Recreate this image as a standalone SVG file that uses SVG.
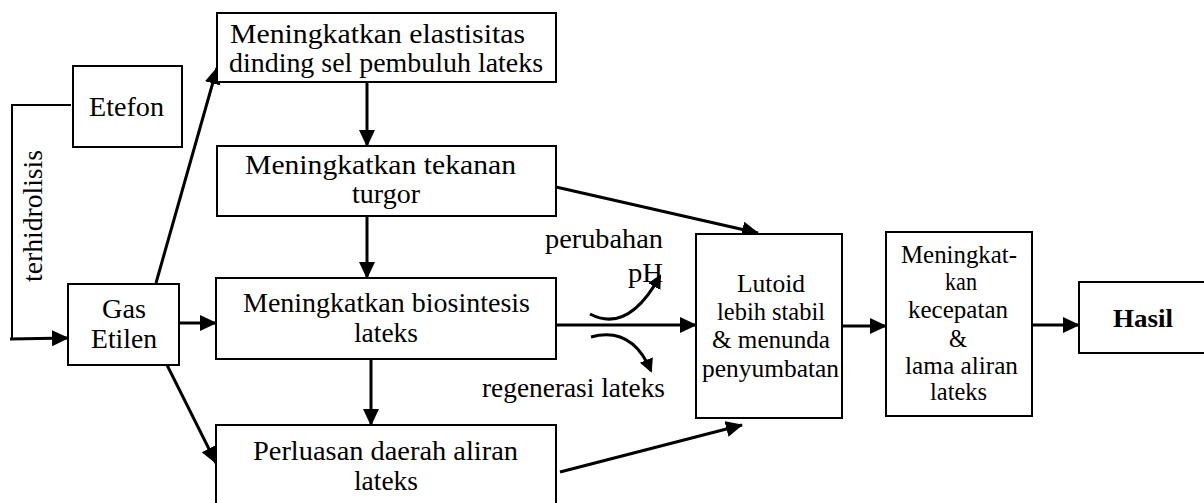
<svg xmlns="http://www.w3.org/2000/svg" width="1204" height="503" viewBox="0 0 1204 503">
<defs>
<style>
.box{fill:#fff;stroke:#000;stroke-width:2}
.t{font-family:"Liberation Serif","Times New Roman",serif;fill:#000}
.L{font-size:27px}
.R{font-size:25px}
.M{font-size:27px}
.c{fill:none;stroke:#000;stroke-width:3}
.thin{fill:none;stroke:#000;stroke-width:2}
</style>
<marker id="ah" markerUnits="userSpaceOnUse" markerWidth="18" markerHeight="18" refX="16" refY="8" orient="auto" viewBox="0 0 18 18">
<path d="M0,0 L17,8 L0,16 z" fill="#000"/>
</marker>
<marker id="ahs" markerUnits="userSpaceOnUse" markerWidth="16" markerHeight="16" refX="12" refY="7" orient="auto" viewBox="0 0 16 16">
<path d="M0,0 L14,7 L0,14 z" fill="#000"/>
</marker>
</defs>
<rect width="1204" height="503" fill="#fff"/>

<g id="connectors">
<polyline class="thin" points="71,105 12,105 12,339"/>
<line class="c" x1="10" y1="339" x2="68" y2="338" marker-end="url(#ah)"/>
<line class="c" x1="156" y1="283" x2="217" y2="68" marker-end="url(#ah)"/>
<line class="c" x1="179" y1="323" x2="216" y2="323" marker-end="url(#ah)"/>
<line class="c" x1="167" y1="365" x2="216" y2="463" marker-end="url(#ah)"/>
<line class="c" x1="367" y1="82" x2="367" y2="146" marker-end="url(#ah)"/>
<line class="c" x1="367" y1="216" x2="367" y2="278" marker-end="url(#ah)"/>
<line class="c" x1="371" y1="359" x2="371" y2="425" marker-end="url(#ah)"/>
<line class="c" x1="556" y1="187" x2="758" y2="233" marker-end="url(#ah)"/>
<line class="c" x1="556" y1="325" x2="696" y2="325" marker-end="url(#ah)"/>
<line class="c" x1="560" y1="472" x2="742" y2="425" marker-end="url(#ah)"/>
<path class="c" d="M590,314 Q628,334 660,276" marker-end="url(#ahs)"/>
<path class="c" d="M591,337 Q632,326 651,371" marker-end="url(#ahs)"/>
<line class="c" x1="842" y1="326" x2="886" y2="326" marker-end="url(#ah)"/>
<line class="c" x1="1032" y1="325" x2="1079" y2="325" marker-end="url(#ah)"/>
</g>

<g id="etefon">
<rect class="box" x="73" y="66" width="109" height="81"/>
<text class="t L" x="89" y="116" textLength="75" lengthAdjust="spacingAndGlyphs">Etefon</text>
</g>

<g id="terhidrolisis">
<text class="t M" transform="translate(42,282) rotate(-90)" textLength="132" lengthAdjust="spacingAndGlyphs">terhidrolisis</text>
</g>

<g id="gas-etilen">
<rect class="box" x="68" y="284" width="111" height="81"/>
<text class="t L" x="102" y="318" textLength="44" lengthAdjust="spacingAndGlyphs">Gas</text>
<text class="t L" x="91" y="348" textLength="66" lengthAdjust="spacingAndGlyphs">Etilen</text>
</g>

<g id="elastisitas">
<rect class="box" x="217" y="13" width="339" height="69"/>
<text class="t L" x="230" y="43" textLength="295" lengthAdjust="spacingAndGlyphs">Meningkatkan elastisitas</text>
<text class="t L" x="229" y="72" textLength="314" lengthAdjust="spacingAndGlyphs">dinding sel pembuluh lateks</text>
</g>

<g id="turgor">
<rect class="box" x="217" y="146" width="339" height="70"/>
<text class="t L" x="245" y="174" textLength="271" lengthAdjust="spacingAndGlyphs">Meningkatkan tekanan</text>
<text class="t L" x="352" y="203" textLength="68" lengthAdjust="spacingAndGlyphs">turgor</text>
</g>

<g id="biosintesis">
<rect class="box" x="216" y="278" width="340" height="81"/>
<text class="t L" x="243" y="312" textLength="287" lengthAdjust="spacingAndGlyphs">Meningkatkan biosintesis</text>
<text class="t L" x="354" y="342" textLength="64" lengthAdjust="spacingAndGlyphs">lateks</text>
</g>

<g id="perluasan">
<rect class="box" x="216" y="425" width="340" height="92"/>
<text class="t L" x="253" y="460" textLength="265" lengthAdjust="spacingAndGlyphs">Perluasan daerah aliran</text>
<text class="t L" x="354" y="490" textLength="64" lengthAdjust="spacingAndGlyphs">lateks</text>
</g>

<g id="labels">
<text class="t M" x="545" y="248" textLength="118" lengthAdjust="spacingAndGlyphs">perubahan</text>
<text class="t M" x="628" y="282" textLength="35" lengthAdjust="spacingAndGlyphs">pH</text>
<text class="t M" x="482" y="397" textLength="183" lengthAdjust="spacingAndGlyphs">regenerasi lateks</text>
</g>

<g id="lutoid">
<rect class="box" x="696" y="234" width="146" height="184"/>
<text class="t R" x="737" y="292" textLength="68" lengthAdjust="spacingAndGlyphs">Lutoid</text>
<text class="t R" x="717" y="320" textLength="108" lengthAdjust="spacingAndGlyphs">lebih stabil</text>
<text class="t R" x="712" y="348" textLength="118" lengthAdjust="spacingAndGlyphs">&amp; menunda</text>
<text class="t R" x="702" y="377" textLength="137" lengthAdjust="spacingAndGlyphs">penyumbatan</text>
</g>

<g id="kecepatan">
<rect class="box" x="886" y="232" width="146" height="184"/>
<text class="t R" x="901" y="263" textLength="116" lengthAdjust="spacingAndGlyphs">Meningkat-</text>
<text class="t R" x="945" y="290" textLength="32" lengthAdjust="spacingAndGlyphs">kan</text>
<text class="t R" x="908" y="318" textLength="100" lengthAdjust="spacingAndGlyphs">kecepatan</text>
<text class="t R" x="949" y="347" textLength="18" lengthAdjust="spacingAndGlyphs">&amp;</text>
<text class="t R" x="905" y="374" textLength="113" lengthAdjust="spacingAndGlyphs">lama aliran</text>
<text class="t R" x="930" y="400" textLength="57" lengthAdjust="spacingAndGlyphs">lateks</text>
</g>

<g id="hasil">
<rect class="box" x="1079" y="282" width="140" height="71"/>
<text class="t" x="1113" y="327" font-size="26" font-weight="bold" textLength="60" lengthAdjust="spacingAndGlyphs">Hasil</text>
</g>
</svg>
